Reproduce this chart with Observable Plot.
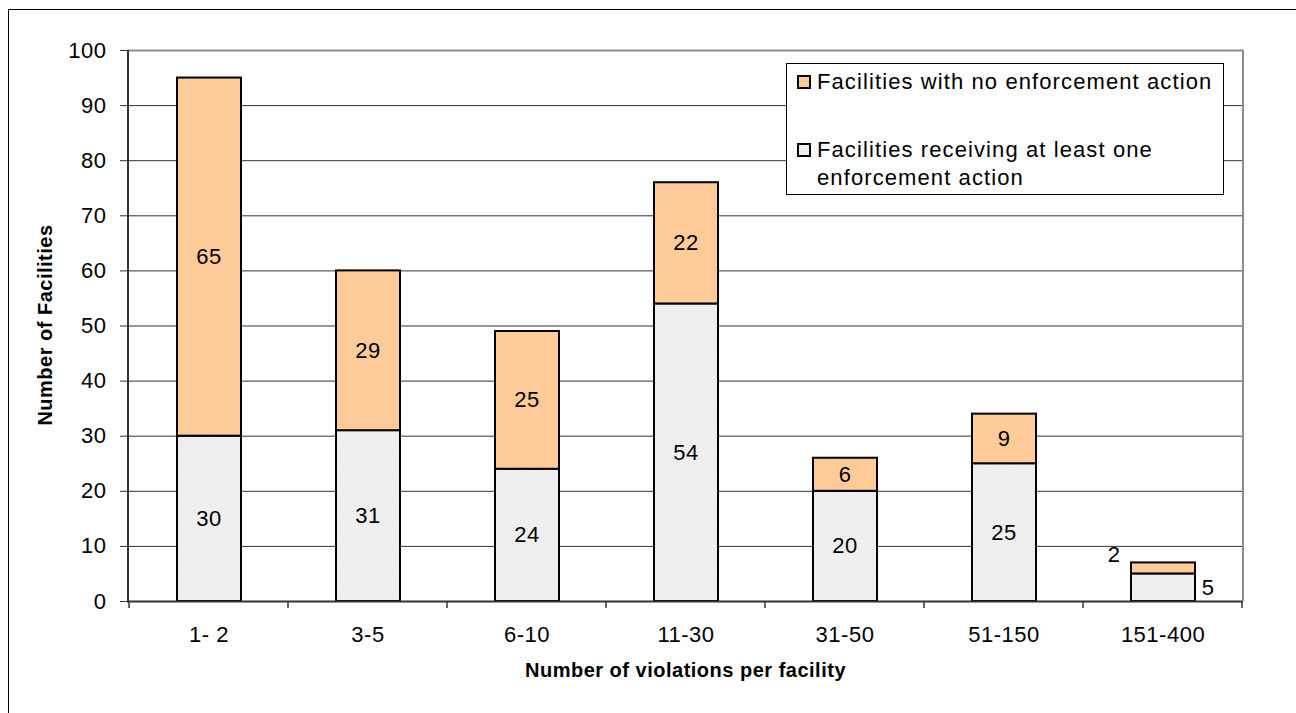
<!DOCTYPE html>
<html><head><meta charset="utf-8">
<script src="https://cdn.jsdelivr.net/npm/d3@7"></script>
<script src="https://cdn.jsdelivr.net/npm/@observablehq/plot@0.6"></script>
<style>
body{margin:0;background:#fff;font-family:Arial,"Liberation Sans",sans-serif;}
#wrap{position:relative;width:1296px;height:713px;overflow:hidden;background:#fff;}
#border{position:absolute;left:8px;top:9px;width:1320px;height:740px;border:1px solid #000;}
#chart{position:absolute;left:0;top:0;}
#legend{position:absolute;left:786px;top:63px;width:436px;height:130px;border:1px solid #000;background:#fff;font-size:22px;letter-spacing:1.1px;color:#000;}
.item{position:absolute;left:30px;line-height:28px;white-space:nowrap;}
.sw{position:absolute;left:10px;width:10px;height:10px;border:2px solid #000;}
</style></head>
<body>
<div id="wrap">
  <div id="border"></div>
  <div id="chart"></div>
  <div id="legend">
    <div class="sw" id="sw1" style="top:11px;"></div>
    <div class="item" id="lt1" style="top:4px;"></div>
    <div class="sw" id="sw2" style="top:79px;"></div>
    <div class="item" id="lt2" style="top:72px;"></div>
  </div>
</div>
<script>
const categories = ["1- 2", "3-5", "6-10", "11-30", "31-50", "51-150", "151-400"];
const withAction = [30, 31, 24, 54, 20, 25, 5];
const noAction = [65, 29, 25, 22, 6, 9, 2];
const seriesNames = ["Facilities receiving at least one enforcement action", "Facilities with no enforcement action"];
const seriesColors = ["url(#hatch)", "#FFCC99"];
const yTicks = [0, 10, 20, 30, 40, 50, 60, 70, 80, 90, 100];
const xTitle = "Number of violations per facility";
const yTitle = "Number of Facilities";

const data = [];
categories.forEach((c, i) => {
  data.push({cat: c, series: seriesNames[0], value: withAction[i]});
  data.push({cat: c, series: seriesNames[1], value: noAction[i]});
});
const lastCat = categories[categories.length - 1];
const lastIdx = categories.length - 1;
const mainData = data.filter(d => d.cat !== lastCat);
const topLabel = [{cat: lastCat, y: withAction[lastIdx] + noAction[lastIdx], text: String(noAction[lastIdx])}];
const bottomLabel = [{cat: lastCat, y: withAction[lastIdx] / 2, text: String(withAction[lastIdx])}];

const font = "Arial, 'Liberation Sans', sans-serif";
const chart = Plot.plot({
  width: 1296,
  height: 713,
  marginLeft: 127,
  marginRight: 53,
  marginTop: 50,
  marginBottom: 112,
  style: {fontFamily: font, fontSize: "22px", color: "#000", background: "transparent", letterSpacing: "0.5px"},
  x: {domain: categories, paddingInner: 0, paddingOuter: 0, label: null},
  y: {domain: [0, 100], label: null},
  color: {domain: seriesNames, range: seriesColors},
  marks: [
    Plot.gridY(yTicks.filter(t => t > 0 && t < 100), {stroke: "#333", strokeOpacity: 1, strokeWidth: 1}),
    Plot.ruleY([100], {stroke: "#8c8c8c", strokeWidth: 2}),
    Plot.barY(data, {x: "cat", y: "value", fill: "series", z: "series", stroke: "#000", strokeWidth: 2, insetLeft: 48, insetRight: 47}),
    Plot.ruleY([0], {stroke: "#333", strokeWidth: 2}),
    Plot.axisY({ticks: yTicks, tickSize: 7, tickPadding: 14, fontSize: 22, label: null, stroke: "#333"}),
    Plot.axisX({tickSize: 0, tickPadding: 25, fontSize: 22, label: null}),
    Plot.text(mainData, Plot.stackY({x: "cat", y: "value", z: "series", text: d => String(d.value), fontSize: 22, fill: "#000"})),
    Plot.text(topLabel, {x: "cat", y: "y", text: "text", dx: -49, dy: -8, fontSize: 22, fill: "#000"}),
    Plot.text(bottomLabel, {x: "cat", y: "y", text: "text", dx: 45, dy: 0, fontSize: 22, fill: "#000"}),
    Plot.text([xTitle], {frameAnchor: "bottom", dy: 75, fontSize: 20, fontWeight: "bold", fill: "#000"}),
    Plot.text([yTitle], {frameAnchor: "left", textAnchor: "middle", dx: -82, dy: -1, rotate: -90, fontSize: 20, fontWeight: "bold", fill: "#000"})
  ]
});

// hatch pattern + axis lines derived from scales
const svg = d3.select(chart);
const defs = svg.insert("defs", ":first-child");
const pat = defs.append("pattern").attr("id", "hatch").attr("patternUnits", "userSpaceOnUse").attr("width", 3).attr("height", 3);
pat.append("rect").attr("width", 3).attr("height", 3).attr("fill", "#f4f4f4");
pat.append("path").attr("d", "M-1,1 l2,-2 M0,3 l3,-3 M2,4 l2,-2").attr("stroke", "#e0e0e0").attr("stroke-width", 0.8);

const xs = chart.scale("x");
const ys = chart.scale("y");
const y0 = ys.apply(0), y100 = ys.apply(100);
const xl = xs.range[0], xr = xs.range[1];
const g = svg.append("g");
g.append("line").attr("x1", xr).attr("x2", xr).attr("y1", y100).attr("y2", y0).attr("stroke", "#8c8c8c").attr("stroke-width", 2);
g.append("line").attr("x1", xl + 1).attr("x2", xl + 1).attr("y1", y100).attr("y2", y0 + 1).attr("stroke", "#333").attr("stroke-width", 2);
const bounds = categories.map(c => xs.apply(c)).concat([xs.apply(lastCat) + xs.step]);
bounds.forEach(b => {
  g.append("line").attr("x1", b).attr("x2", b).attr("y1", y0).attr("y2", y0 + 7).attr("stroke", "#333").attr("stroke-width", 1.5);
});

document.getElementById("chart").appendChild(chart);

// legend
document.getElementById("lt1").textContent = seriesNames[1];
document.getElementById("lt2").innerHTML = "Facilities receiving at least one<br>enforcement action";
document.getElementById("sw1").style.background = seriesColors[1];
document.getElementById("sw2").style.background = "#efefef";
</script>
</body></html>
